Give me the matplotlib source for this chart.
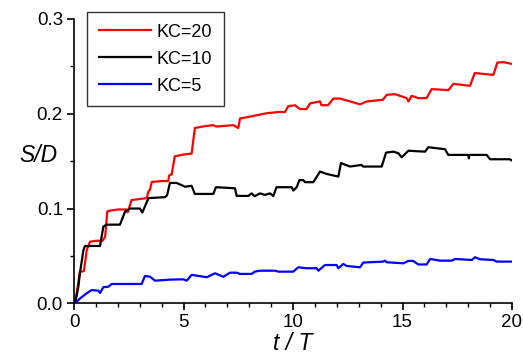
import matplotlib
matplotlib.use("Agg")
import matplotlib.pyplot as plt
from matplotlib.ticker import MultipleLocator

plt.rcParams['font.family'] = ['Liberation Sans', 'DejaVu Sans']

# KC=20 (red)
t20 = [0.0, 0.05, 0.27, 0.45, 0.58, 0.73, 1.0, 1.3, 1.42, 1.52, 1.7, 2.0, 2.4, 2.45, 2.63, 3.0, 3.32, 3.4, 3.47, 3.55, 4.0, 4.3, 4.35, 4.46, 4.6, 5.0, 5.37, 5.52, 6.0, 6.35, 6.5, 7.27, 7.5, 7.58, 8.04, 8.8, 9.4, 9.63, 9.78,
       10.09, 10.32, 10.62, 10.78, 11.23, 11.3, 11.6, 11.84, 12.15, 13.06, 13.37, 14.1, 14.28, 14.66, 15.19, 15.27, 15.42, 15.72, 16.1, 16.33, 17.1, 17.32, 18.08, 18.3, 19.15, 19.33, 19.6, 19.98]
v20 = [0.0, 0.0, 0.033, 0.034, 0.056, 0.065, 0.066, 0.066, 0.070, 0.097, 0.098, 0.099, 0.099, 0.096, 0.109, 0.110, 0.111, 0.118, 0.120, 0.128, 0.129, 0.129, 0.135, 0.136, 0.155, 0.157, 0.158, 0.185, 0.187, 0.188, 0.1865, 0.188, 0.185, 0.195, 0.197, 0.2006, 0.202, 0.2017, 0.208,
       0.209, 0.205, 0.205, 0.211, 0.213, 0.209, 0.209, 0.216, 0.216, 0.210, 0.213, 0.2147, 0.220, 0.2207, 0.2165, 0.213, 0.219, 0.2165, 0.2165, 0.226, 0.225, 0.2316, 0.2295, 0.243, 0.241, 0.254, 0.2545, 0.2527]

# KC=10 (black)
t10 = [0.0, 0.05, 0.2, 0.27, 0.43, 0.5, 1.19, 1.34, 1.49, 2.1, 2.33, 2.56, 3.01, 3.12, 3.4, 4.16, 4.25, 4.38, 4.69, 5.07, 5.37, 5.52, 6.36, 6.48, 7.35, 7.43, 7.96, 8.11, 8.25, 8.49, 8.72, 8.95, 9.1, 9.25, 9.94, 10.01, 10.17, 10.29, 10.47, 10.55, 10.93,
       11.23, 11.54, 12.07, 12.19, 12.3, 12.6, 13.13, 13.2, 14.05, 14.25, 14.58, 14.81, 14.96, 15.27, 16.03, 16.18, 16.94, 17.09, 18.0, 18.03, 18.06, 18.84, 19.0, 19.9, 20.0]
v10 = [0.0, 0.0, 0.0175, 0.032, 0.056, 0.0605, 0.0605, 0.081, 0.083, 0.083, 0.0967, 0.100, 0.100, 0.0957, 0.111, 0.112, 0.114, 0.127, 0.127, 0.123, 0.124, 0.1154, 0.1154, 0.1225, 0.1214, 0.1133, 0.1133, 0.116, 0.113, 0.116, 0.1144, 0.116, 0.1133, 0.1225, 0.1225, 0.119, 0.1225, 0.130, 0.130, 0.1278, 0.1278,
       0.139, 0.1365, 0.1337, 0.148, 0.147, 0.1443, 0.146, 0.1443, 0.1443, 0.159, 0.160, 0.1584, 0.154, 0.161, 0.160, 0.1647, 0.1626, 0.1566, 0.1566, 0.153, 0.1566, 0.1566, 0.152, 0.152, 0.1506]

# KC=5 (blue)
t5 = [0.0, 0.05, 0.27, 0.58, 0.81, 1.11, 1.19, 1.34, 1.57, 1.72, 3.09, 3.24, 3.47, 3.7, 4.16, 4.38, 4.99, 5.15, 5.37, 6.06, 6.44, 6.82, 7.12, 7.43, 7.58, 8.11, 8.26, 8.49, 9.18, 9.33, 10.01, 10.24, 10.62, 11.08, 11.16, 11.46, 11.99, 12.07, 12.3, 12.45,
      13.06, 13.21, 14.12, 14.2, 14.28, 15.04, 15.27, 15.49, 15.72, 16.1, 16.26, 16.71, 17.25, 17.4, 18.16, 18.31, 18.54, 19.15, 19.3, 19.98]
v5 = [0.0, 0.0, 0.005, 0.0106, 0.014, 0.0133, 0.011, 0.017, 0.0175, 0.0204, 0.0204, 0.0288, 0.0281, 0.0239, 0.0246, 0.0250, 0.0253, 0.0239, 0.030, 0.0275, 0.0317, 0.028, 0.0323, 0.0323, 0.031, 0.031, 0.0334, 0.0344, 0.0344, 0.0334, 0.0334, 0.038, 0.037, 0.037, 0.0344, 0.0404, 0.0404, 0.037, 0.0415, 0.0394,
      0.038, 0.043, 0.044, 0.045, 0.0433, 0.0422, 0.0447, 0.0447, 0.041, 0.041, 0.0468, 0.045, 0.045, 0.0468, 0.0457, 0.0486, 0.0465, 0.0457, 0.044, 0.044]

fig = plt.figure(figsize=(5.23, 3.6), dpi=100)
ax = fig.add_axes([74/523, 1 - 303.3/360, (512 - 74)/523, (303.3 - 19)/360])

ax.plot(t20, v20, color='#ff0000', lw=1.6, label='KC=20')
ax.plot(t10, v10, color='#000000', lw=1.6, label='KC=10')
ax.plot(t5, v5, color='#0000ff', lw=1.6, label='KC=5')

ax.set_xlim(0, 20)
ax.set_ylim(0, 0.3)
ax.xaxis.set_major_locator(MultipleLocator(5))
ax.xaxis.set_minor_locator(MultipleLocator(1))
ax.yaxis.set_major_locator(MultipleLocator(0.1))
ax.yaxis.set_minor_locator(MultipleLocator(0.05))
ax.xaxis.set_major_formatter(matplotlib.ticker.FuncFormatter(lambda v, p: f"{v:.0f}"))
ax.yaxis.set_major_formatter(matplotlib.ticker.FuncFormatter(lambda v, p: f"{v:.1f}"))

for s in ['top', 'right']:
    ax.spines[s].set_visible(False)
for s in ['left', 'bottom']:
    ax.spines[s].set_linewidth(1.2)
ax.tick_params(which='major', direction='out', length=5, width=1.2, labelsize=13.5, pad=3)
ax.tick_params(which='minor', direction='out', length=3, width=1.0)

fig.text(38/523, 1 - 155/360, 'S/D', style='italic', fontsize=16.5, ha='center', va='center')
fig.text(293/523, 1 - 344/360, 't / T', style='italic', fontsize=16.5, ha='center', va='center')

leg = ax.legend(loc='upper left', bbox_to_anchor=(87/523, 1 - 12/360), bbox_transform=fig.transFigure,
                borderaxespad=0, fontsize=13, frameon=True, fancybox=False, handlelength=2.9,
                handletextpad=0.3, labelspacing=0.55, borderpad=0.65)
leg.get_frame().set_edgecolor('black')
leg.get_frame().set_linewidth(1.0)

fig.savefig('out.png', dpi=100)
